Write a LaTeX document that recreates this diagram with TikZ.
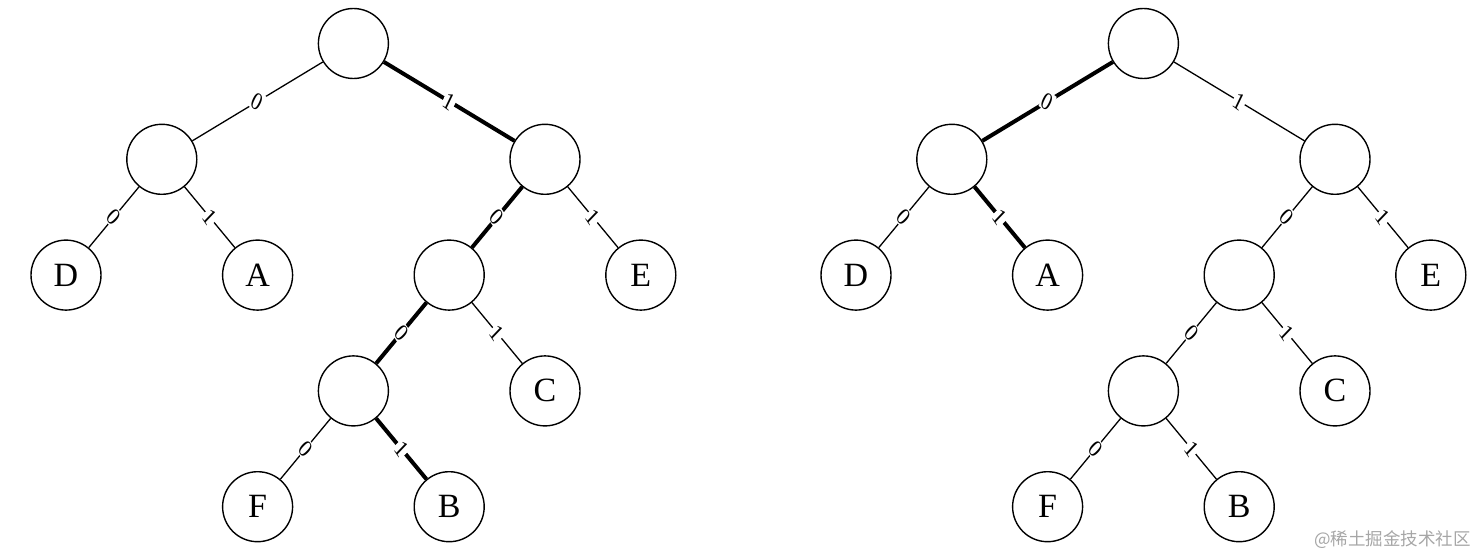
\documentclass[tikz,border=0pt]{standalone}
\usepackage{fontspec}
\setmainfont{Liberation Serif}
\newfontfamily\cjk{Noto Sans CJK SC}
\begin{document}
\begin{tikzpicture}[x=1pt,y=-1pt,
  tnode/.style={circle,draw,line width=1.4pt,minimum size=70pt,inner sep=0pt,font=\fontsize{34}{40}\selectfont},
  thin edge/.style={line width=1.3pt},
  thick edge/.style={line width=4pt},
  lbl/.style={fill=white,inner sep=1.2pt,font=\fontsize{25}{27}\selectfont,xscale=0.8},
  up/.style={lbl,rotate=-31},
  lo/.style={lbl,rotate=-50}]
\useasboundingbox (0,0) rectangle (1478,556);
% ---------- left tree ----------
\node[tnode] (r)   at (353.4,43.5) {};
\node[tnode] (l1)  at (161.8,159.3) {};
\node[tnode] (r1)  at (545,159.3) {};
\node[tnode] (d)   at (66,275.1) {D};
\node[tnode] (a)   at (257.6,275.1) {A};
\node[tnode] (i2)  at (449.2,275.1) {};
\node[tnode] (e)   at (640.8,275.1) {E};
\node[tnode] (i3)  at (353.4,390.9) {};
\node[tnode] (c)   at (545,390.9) {C};
\node[tnode] (f)   at (257.6,506.7) {F};
\node[tnode] (b)   at (449.2,506.7) {B};
\draw[thin edge]  (r) -- node[up]{0} (l1);
\draw[thick edge] (r) -- node[up]{1} (r1);
\draw[thin edge]  (l1) -- node[lo]{0} (d);
\draw[thin edge]  (l1) -- node[lo]{1} (a);
\draw[thick edge] (r1) -- node[lo]{0} (i2);
\draw[thin edge]  (r1) -- node[lo]{1} (e);
\draw[thick edge] (i2) -- node[lo]{0} (i3);
\draw[thin edge]  (i2) -- node[lo]{1} (c);
\draw[thin edge]  (i3) -- node[lo]{0} (f);
\draw[thick edge] (i3) -- node[lo]{1} (b);
% ---------- right tree ----------
\begin{scope}[xshift=790pt]
\node[tnode] (rR)  at (353.4,43.5) {};
\node[tnode] (l1R) at (161.8,159.3) {};
\node[tnode] (r1R) at (545,159.3) {};
\node[tnode] (dR)  at (66,275.1) {D};
\node[tnode] (aR)  at (257.6,275.1) {A};
\node[tnode] (i2R) at (449.2,275.1) {};
\node[tnode] (eR)  at (640.8,275.1) {E};
\node[tnode] (i3R) at (353.4,390.9) {};
\node[tnode] (cR)  at (545,390.9) {C};
\node[tnode] (fR)  at (257.6,506.7) {F};
\node[tnode] (bR)  at (449.2,506.7) {B};
\end{scope}
\draw[thick edge] (rR) -- node[up]{0} (l1R);
\draw[thin edge]  (rR) -- node[up]{1} (r1R);
\draw[thin edge]  (l1R) -- node[lo]{0} (dR);
\draw[thick edge] (l1R) -- node[lo]{1} (aR);
\draw[thin edge]  (r1R) -- node[lo]{0} (i2R);
\draw[thin edge]  (r1R) -- node[lo]{1} (eR);
\draw[thin edge]  (i2R) -- node[lo]{0} (i3R);
\draw[thin edge]  (i2R) -- node[lo]{1} (cR);
\draw[thin edge]  (i3R) -- node[lo]{0} (fR);
\draw[thin edge]  (i3R) -- node[lo]{1} (bR);
% watermark
\node[anchor=east,inner sep=0pt,text=black!35,font=\cjk\fontsize{17.5}{19}\selectfont] (wm) at (1471,540) {@稀土掘金技术社区};
\end{tikzpicture}
\end{document}
